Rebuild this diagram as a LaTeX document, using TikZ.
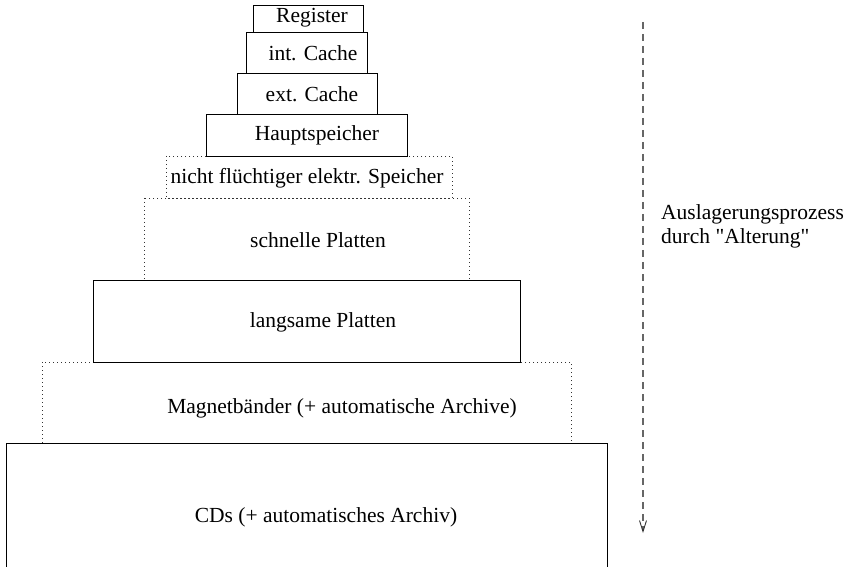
\documentclass[tikz,border=0pt]{standalone}
\usepackage{fontspec}
\setmainfont{Liberation Serif}[Ligatures=TeXOff]
\usetikzlibrary{arrows.meta}
\begin{document}
\begin{tikzpicture}[x=1pt,y=-1pt,
  solidbox/.style={draw=black,line width=0.9pt},
  dotbox/.style={draw=black!80,line width=0.9pt,dash pattern=on 1pt off 3pt},
  lbl/.style={inner sep=0pt,font=\fontsize{21.5}{24}\selectfont},
  flow/.style={draw=black!60,line width=1.1pt,dash pattern=on 7pt off 5pt,
    -{Straight Barb[length=11pt,width=7pt,line width=0.9pt,black!80]}}]
\useasboundingbox (0,0) rectangle (847,567);
% dotted boxes first
\path[dotbox] (166,156) rectangle (452,198);
\path[dotbox] (144,198) rectangle (469,280);
\path[dotbox] (42,362) rectangle (571,443);
% solid boxes
\path[solidbox] (253,5) rectangle (363,32);
\path[solidbox] (246,32) rectangle (367,73);
\path[solidbox] (237,73) rectangle (377,114);
\path[solidbox] (206,114) rectangle (407,156);
\path[solidbox] (93,280) rectangle (520,362);
\path[solidbox] (6,443) rectangle (607,580);
% labels
\node[lbl] (reg) at (312,18) {Register};
\node[lbl] (ic) at (313,53) {int. Cache};
\node[lbl] (ec) at (312,94) {ext. Cache};
\node[lbl] (hs) at (317,135) {Hauptspeicher};
\node[lbl] (nf) at (307,178) {nicht flüchtiger elektr. Speicher};
\node[lbl] (sp) at (318,240) {schnelle Platten};
\node[lbl] (lp) at (323,322) {langsame Platten};
\node[lbl] (mb) at (342,408) {Magnetbänder (+ automatische Archive)};
\node[lbl] (cd) at (326,517) {CDs (+ automatisches Archiv)};
% ageing arrow
\coordinate (atop) at (643,22);
\coordinate (abot) at (643,533);
\draw[flow] (atop) -- (abot);
\node[lbl,anchor=west,align=left,font=\fontsize{21.5}{24}\selectfont] (txt) at (661,226) {Auslagerungsprozess\\durch "Alterung"};
\end{tikzpicture}
\end{document}
